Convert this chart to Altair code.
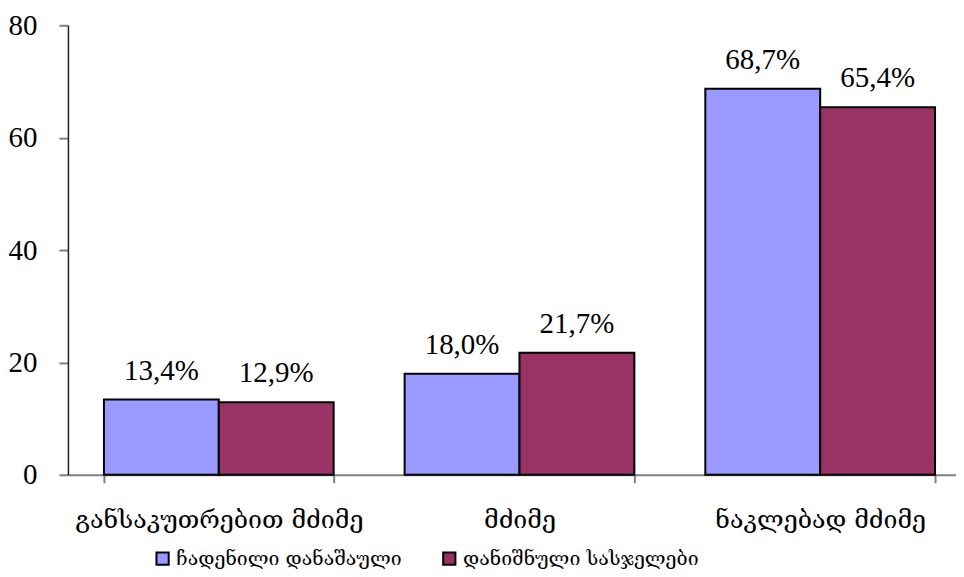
import altair as alt
import pandas as pd

categories = ["განსაკუთრებით მძიმე", "მძიმე", "ნაკლებად მძიმე"]
series = ["ჩადენილი დანაშაული", "დანიშნული სასჯელები"]
committed = [13.4, 18.0, 68.7]
sentenced = [12.9, 21.7, 65.4]
colors = ["#9999FF", "#993366"]

rows = []
for s, vals in zip(series, [committed, sentenced]):
    for c, v in zip(categories, vals):
        rows.append({"cat": c, "series": s, "value": v,
                     "label": f"{v:.1f}%".replace(".", ",")})
df = pd.DataFrame(rows)

NUM_FONT = "Liberation Serif"
GEO_FONT = "DejaVu Serif"

x = alt.X("cat:N", sort=categories, title=None,
          scale=alt.Scale(paddingInner=0.236, paddingOuter=0.0947, align=0.632),
          axis=alt.Axis(labelAngle=0, labelFont=GEO_FONT, labelFontSize=25,
                        labelColor="black", labelPadding=25, labelLimit=0,
                        tickBand="extent",
                        tickSize=8, tickColor="#808080", domainColor="#808080",
                        domainWidth=2, tickWidth=2, grid=False))
xo = alt.XOffset("series:N", sort=series)
y = alt.Y("value:Q", title=None,
          scale=alt.Scale(domain=[0, 80], nice=False),
          axis=alt.Axis(values=[0, 20, 40, 60, 80], labelFont=NUM_FONT,
                        labelFontSize=29, labelColor="black", labelPadding=22,
                        tickSize=9, tickColor="#808080", tickWidth=2,
                        domainColor="#222222", domainWidth=1.5, grid=False))

bars = alt.Chart(df).mark_bar(stroke="black", strokeWidth=2).encode(
    x=x, xOffset=xo, y=y,
    color=alt.Color("series:N", sort=series, title=None,
                    scale=alt.Scale(domain=series, range=colors),
                    legend=alt.Legend(orient="none", legendX=85, legendY=524,
                                      direction="horizontal", symbolType="square",
                                      symbolSize=150, symbolStrokeColor="black",
                                      symbolStrokeWidth=2, symbolOpacity=1,
                                      labelFont=GEO_FONT, labelFontSize=19.5,
                                      labelColor="black", columnPadding=36,
                                      labelOffset=4, labelLimit=0, padding=0)),
)

labels = alt.Chart(df).mark_text(font=NUM_FONT, fontSize=29, baseline="bottom",
                                 dy=-14, color="black").encode(
    x=alt.X("cat:N", sort=categories), xOffset=xo, y="value:Q", text="label:N"
)

chart = (bars + labels).properties(
    width=889, height=450,
    padding={"left": 0, "right": 0, "top": 3, "bottom": 0},
).configure_view(stroke=None)

chart.save("out.html", embed_options={"renderer": "svg", "actions": False})
